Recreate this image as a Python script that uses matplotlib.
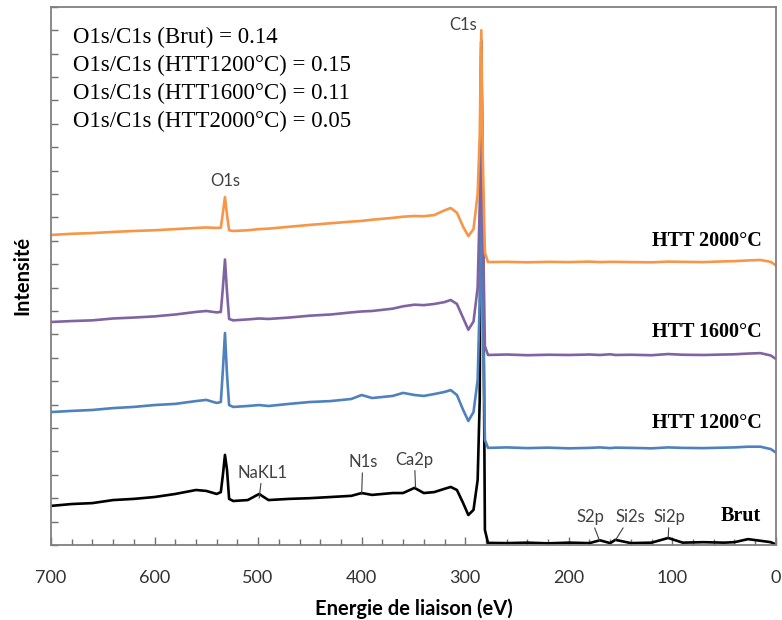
import matplotlib
matplotlib.use("Agg")
import matplotlib.pyplot as plt
from matplotlib.ticker import MultipleLocator, NullFormatter

# binding energy grid (eV), shared by all spectra
energy = [700, 680, 660, 640, 620, 600, 580, 560, 550, 540, 536, 534, 532, 530,
          528, 524, 510, 499, 490, 470, 450, 430, 410, 400, 390, 370, 360, 349,
          340, 330, 320, 314, 308, 302, 297, 292, 288, 286, 284.5, 283, 281, 278,
          260, 240, 220, 200, 180, 170, 160, 155, 140, 120, 104, 90, 70, 50, 40,
          27, 15, 5, 0]

brut = [1.67, 1.75, 1.79, 1.92, 1.97, 2.05, 2.18, 2.35, 2.31, 2.18, 2.26, 3.0, 3.85, 3.2,
        1.97, 1.88, 1.92, 2.18, 1.92, 1.97, 2.0, 2.05, 2.1, 2.22, 2.14, 2.22, 2.22, 2.44,
        2.22, 2.26, 2.4, 2.48, 2.35, 1.79, 1.28, 1.5, 2.78, 6.2, 21.5, 14.7, 0.64, 0.09,
        0.08, 0.1, 0.07, 0.1, 0.08, 0.2, 0.08, 0.22, 0.08, 0.1, 0.3, 0.1, 0.12, 0.1, 0.12,
        0.25, 0.18, 0.12, 0.02]

htt1200 = [5.68, 5.73, 5.77, 5.85, 5.9, 5.98, 6.03, 6.15, 6.2, 6.07, 6.11, 7.48, 9.06, 7.26,
           5.98, 5.9, 5.94, 5.98, 5.94, 6.03, 6.11, 6.15, 6.24, 6.41, 6.28, 6.37, 6.5, 6.41,
           6.37, 6.45, 6.54, 6.62, 6.41, 5.77, 5.3, 5.68, 7.05, 10.47, 21.5, 10.47, 4.49, 4.15,
           4.17, 4.14, 4.16, 4.13, 4.15, 4.17, 4.14, 4.16, 4.15, 4.13, 4.17, 4.15, 4.14, 4.16,
           4.17, 4.2, 4.2, 4.1, 3.95]

htt1600 = [9.53, 9.57, 9.6, 9.68, 9.72, 9.77, 9.85, 9.96, 10.0, 9.94, 9.96, 11.0, 12.2, 10.8,
           9.66, 9.6, 9.64, 9.68, 9.66, 9.72, 9.8, 9.85, 9.94, 9.98, 10.0, 10.1, 10.2, 10.27,
           10.25, 10.3, 10.38, 10.47, 10.3, 9.7, 9.2, 9.55, 11.0, 14.5, 21.6, 14.0, 8.5, 8.12,
           8.14, 8.11, 8.13, 8.12, 8.14, 8.12, 8.15, 8.12, 8.13, 8.11, 8.16, 8.13, 8.12, 8.14,
           8.15, 8.18, 8.2, 8.1, 7.95]

htt2000 = [13.25, 13.3, 13.33, 13.38, 13.42, 13.45, 13.5, 13.55, 13.57, 13.55, 13.56, 14.2, 14.87, 14.1,
           13.45, 13.42, 13.45, 13.5, 13.52, 13.6, 13.68, 13.75, 13.82, 13.85, 13.9, 13.98, 14.03, 14.06,
           14.05, 14.1, 14.3, 14.4, 14.2, 13.6, 13.2, 13.5, 15.0, 17.5, 22.0, 16.5, 12.5, 12.09,
           12.1, 12.08, 12.1, 12.09, 12.11, 12.09, 12.1, 12.1, 12.09, 12.08, 12.11, 12.1, 12.09, 12.12,
           12.13, 12.16, 12.18, 12.1, 11.95]

series_names = ["Brut", "HTT 1200°C", "HTT 1600°C", "HTT 2000°C"]
series_values = [brut, htt1200, htt1600, htt2000]
series_colors = ["black", "#4F81BD", "#8064A2", "#F79646"]
label_y = [1.24, 5.2, 9.1, 13.0]

ratio_lines = ["O1s/C1s (Brut) = 0.14",
               "O1s/C1s (HTT1200°C) = 0.15",
               "O1s/C1s (HTT1600°C) = 0.11",
               "O1s/C1s (HTT2000°C) = 0.05"]

# peak labels: name, text position, point on the curve
peaks = [("NaKL1", 496, 2.75, 499, 2.0),
         ("N1s", 399, 3.2, 400, 2.15),
         ("Ca2p", 349, 3.3, 348, 2.45),
         ("S2p", 179, 0.85, 170, 0.15),
         ("Si2s", 141, 0.85, 155, 0.2),
         ("Si2p", 103, 0.85, 104, 0.3)]

sans = ["Lato", "DejaVu Sans"]
serif = ["Liberation Serif", "DejaVu Serif"]

fig = plt.figure(figsize=(7.82, 6.2), dpi=100)
ax = fig.add_axes([0.0652, 0.121, 0.927, 0.868])

for vals, col in zip(series_values, series_colors):
    ax.plot(energy, vals, color=col, lw=1.9, solid_joinstyle="round")

for name, y in zip(series_names, label_y):
    ax.text(14, y, name, ha="right", va="center", fontsize=14.5,
            fontweight="bold", family=serif)

for i, line in enumerate(ratio_lines):
    ax.text(0.03, 0.962 - i * 0.052, line, transform=ax.transAxes, ha="left",
            va="top", fontsize=16.5, family=serif)

ax.text(532, 15.2, "O1s", ha="center", va="bottom", fontsize=12,
        family=sans, color="#404040")
ax.text(302, 21.9, "C1s", ha="center", va="bottom", fontsize=12,
        family=sans, color="#404040")

for name, tx, ty, px, py in peaks:
    ax.annotate(name, xy=(px, py), xytext=(tx, ty), ha="center", va="bottom",
                fontsize=12, family=sans, color="#404040",
                arrowprops=dict(arrowstyle="-", color="#404040", lw=0.8,
                                shrinkA=0, shrinkB=0))

ax.set_xlim(700, 0)
ax.set_ylim(0, 23)
ax.xaxis.set_major_locator(MultipleLocator(100))
ax.xaxis.set_minor_locator(MultipleLocator(20))
ax.yaxis.set_major_locator(MultipleLocator(1))
ax.yaxis.set_major_formatter(NullFormatter())
ax.tick_params(axis="x", which="major", direction="in", length=6, width=1,
               color="#707070", pad=18, labelsize=13)
ax.tick_params(axis="x", which="minor", direction="in", length=4, width=1,
               color="#707070")
ax.tick_params(axis="y", direction="in", length=5, width=1, color="#707070")
for lbl in ax.get_xticklabels():
    lbl.set_family(sans)
    lbl.set_color("#333333")

for sp in ax.spines.values():
    sp.set_color("#808080")
    sp.set_linewidth(1.3)

ax.set_xlabel("Energie de liaison (eV)", fontsize=14.5, fontweight="bold",
              family=sans, labelpad=9)
ax.set_ylabel("Intensité", fontsize=14.5, fontweight="bold", family=sans,
              labelpad=10)

fig.savefig("out.png", dpi=100)
